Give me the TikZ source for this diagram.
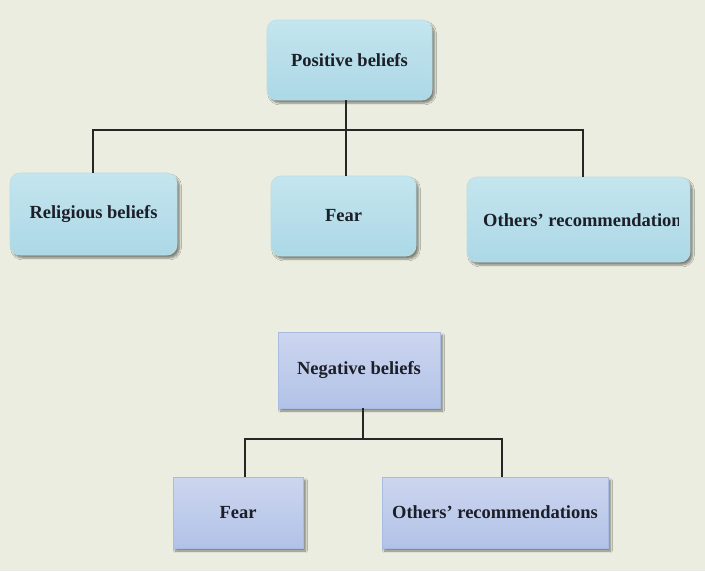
\documentclass[tikz,border=0pt]{standalone}
\usepackage{fontspec}
\setmainfont{Liberation Serif}
\usetikzlibrary{shadows.blur}
\definecolor{bg}{RGB}{234,237,223}
\definecolor{cyT}{RGB}{196,229,238}
\definecolor{cyM}{RGB}{222,241,246}
\definecolor{cyB}{RGB}{172,216,230}
\definecolor{cyD}{RGB}{185,222,233}
\definecolor{lvT}{RGB}{204,214,239}
\definecolor{lvM}{RGB}{226,232,246}
\definecolor{lvB}{RGB}{178,194,231}
\definecolor{lvD}{RGB}{170,186,225}
\definecolor{ink}{RGB}{28,30,40}
\tikzset{
  lbl/.style={font=\fontsize{18.5}{20}\selectfont\bfseries, text=ink},
  base/.style={lbl, inner sep=2pt,
    blur shadow={shadow xshift=2.5pt, shadow yshift=-3pt, shadow blur steps=6, shadow opacity=45}},
  cybox/.style={base, rounded corners=10pt, draw=cyD, line width=0.6pt,
    top color=cyT, middle color=cyM, bottom color=cyB},
  lvbox/.style={base, draw=lvD, line width=0.6pt,
    top color=lvT, middle color=lvM, bottom color=lvB},
  conn/.style={draw=black!85, line width=1.6pt}
}
\begin{document}
\begin{tikzpicture}[x=1pt,y=-1pt]
\useasboundingbox[fill=bg] (0,0) rectangle (705,571);
\coordinate (b1) at (346,130);
\coordinate (b2) at (363,439);
% top boxes
\node[cybox, minimum width=165pt, minimum height=80pt] (pos) at (349.5,60) {Positive beliefs};
\node[cybox, minimum width=167pt, minimum height=82pt] (rel) at (93.5,214) {Religious beliefs};
\node[cybox, minimum width=145pt, minimum height=80pt] (fear1) at (343.5,216) {Fear};
\node[cybox, minimum width=223pt, minimum height=85pt] (oth1) at (578.5,219.5) {};
\begin{scope}
  \clip (oth1.north west) rectangle (678,262);
  \node[lbl, inner sep=0pt, anchor=west] (oth1t) at (483,220) {Others’ recommendations};
\end{scope}
% bottom boxes
\node[lvbox, minimum width=162pt, minimum height=76pt] (neg) at (359,370) {Negative beliefs};
\node[lvbox, minimum width=130pt, minimum height=71pt] (fear2) at (238,512.5) {Fear};
\node[lvbox, minimum width=226pt, minimum height=71pt] (oth2) at (495,512.5) {Others’ recommendations};
% connectors
\draw[conn] (pos.south -| b1) -- (fear1.north -| b1);
\draw[conn] ([xshift=-0.5pt]rel.north) |- (b1) -| ([xshift=4.5pt]oth1.north);
\draw[conn] (neg.south -| b2) -- (b2);
\draw[conn] ([xshift=7pt]fear2.north) |- (b2) -| ([xshift=7pt]oth2.north);
\end{tikzpicture}
\end{document}
